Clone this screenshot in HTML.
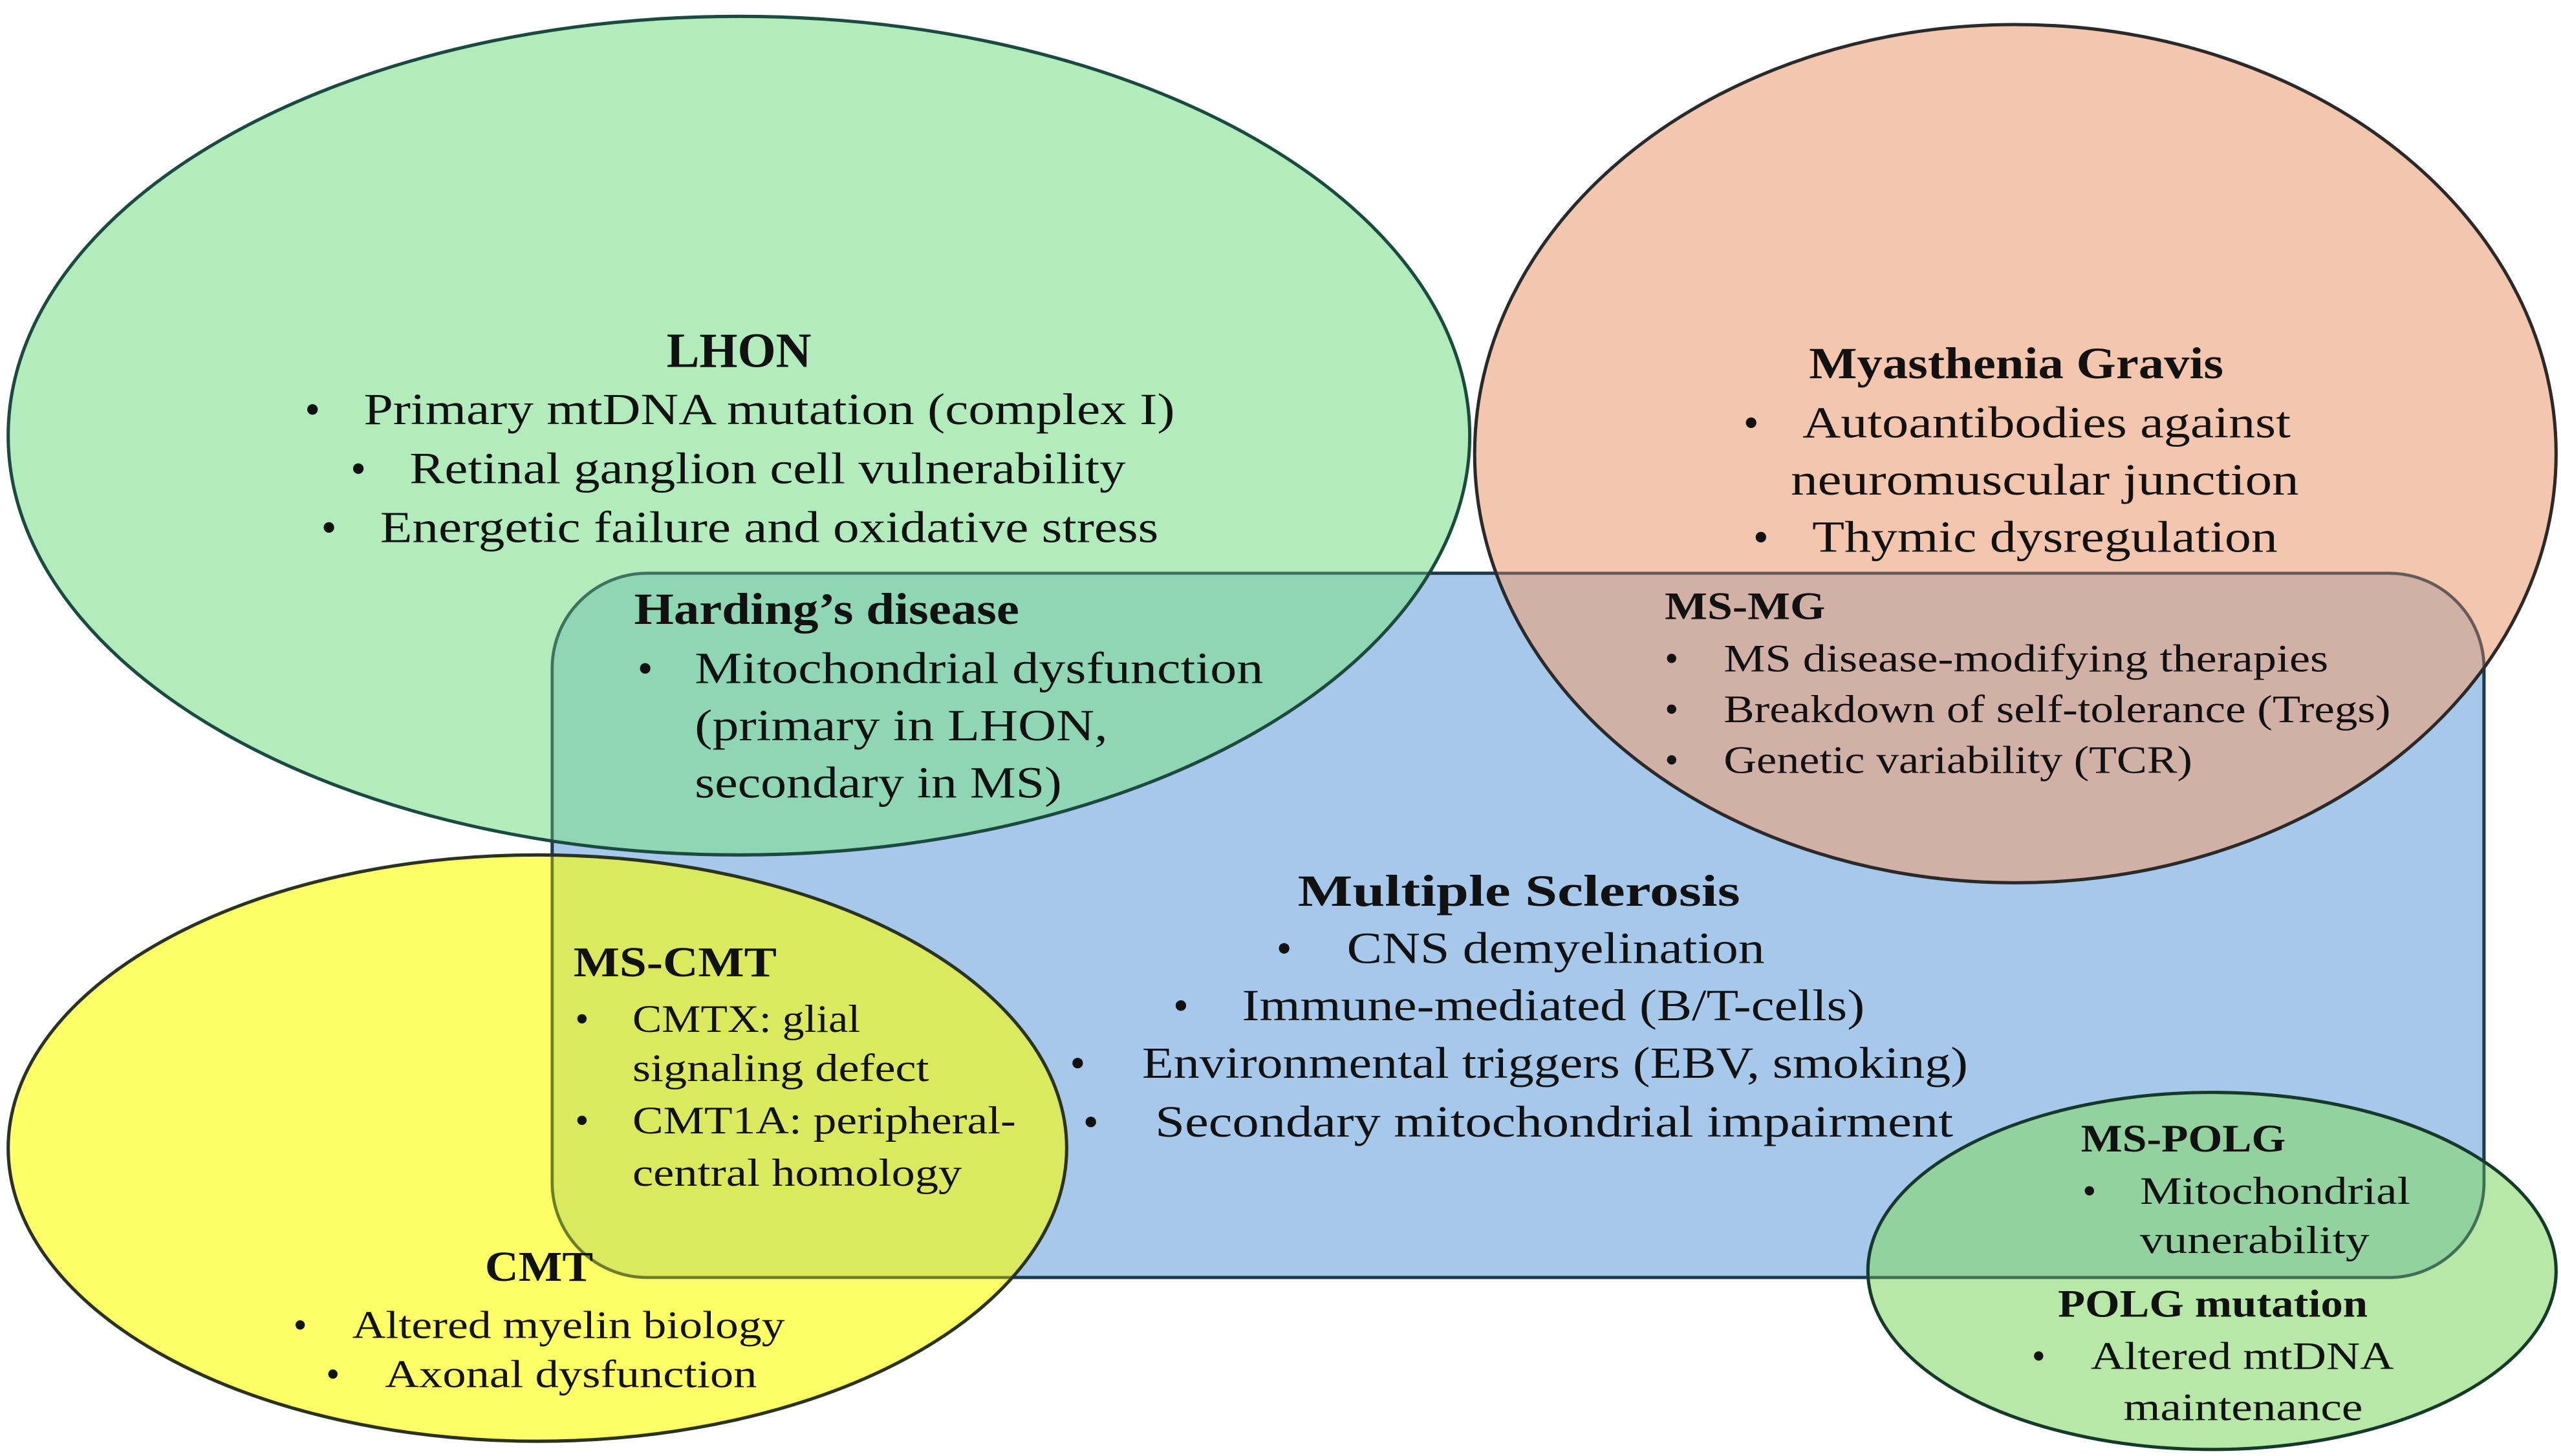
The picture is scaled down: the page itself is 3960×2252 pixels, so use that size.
<!DOCTYPE html>
<html><head><meta charset="utf-8"><style>
html,body{margin:0;padding:0;background:#fff;}
svg{display:block;}
text{font-family:"Liberation Serif",serif;fill:#111;}
.t{font-weight:bold;}
</style></head><body>
<svg width="3960" height="2252" viewBox="0 0 1563 889" preserveAspectRatio="none" xmlns="http://www.w3.org/2000/svg">
<rect x="337" y="350" width="1179" height="430" rx="58" ry="58" fill="#a6c8ea" stroke="#1c3b4c" stroke-width="2"/>
<ellipse cx="451" cy="266" rx="446" ry="256" fill="#80df8f" fill-opacity="0.6" stroke="#1a4a40" stroke-width="2"/>
<ellipse cx="1230" cy="277" rx="330" ry="262" fill="#eea078" fill-opacity="0.6" stroke="#2a2a2a" stroke-width="2"/>
<ellipse cx="328" cy="701" rx="323" ry="179" fill="#ffff00" fill-opacity="0.6" stroke="#2a3320" stroke-width="2"/>
<ellipse cx="1350" cy="776" rx="210" ry="109" fill="#87d96c" fill-opacity="0.6" stroke="#163a2a" stroke-width="2"/>
<!-- rect outline over overlaps, faint -->
<rect x="337" y="350" width="1179" height="430" rx="58" ry="58" fill="none" stroke="#1c3b4c" stroke-opacity="0.45" stroke-width="1.6"/>

<g font-size="27">
<text class="t" x="451" y="224" text-anchor="middle" font-size="30">LHON</text>
<text x="186" y="259">•</text><text x="222" y="259" textLength="495" lengthAdjust="spacingAndGlyphs">Primary mtDNA mutation (complex I)</text>
<text x="214" y="295">•</text><text x="250" y="295" textLength="437" lengthAdjust="spacingAndGlyphs">Retinal ganglion cell vulnerability</text>
<text x="196" y="331">•</text><text x="232" y="331" textLength="475" lengthAdjust="spacingAndGlyphs">Energetic failure and oxidative stress</text>

<text class="t" x="1104" y="231" textLength="253" lengthAdjust="spacingAndGlyphs">Myasthenia Gravis</text>
<text x="1064" y="267">•</text><text x="1100" y="267" textLength="298" lengthAdjust="spacingAndGlyphs">Autoantibodies against</text>
<text x="1093" y="302" textLength="310" lengthAdjust="spacingAndGlyphs">neuromuscular junction</text>
<text x="1070" y="337">•</text><text x="1106" y="337" textLength="284" lengthAdjust="spacingAndGlyphs">Thymic dysregulation</text>

<text class="t" x="387" y="381" textLength="235" lengthAdjust="spacingAndGlyphs">Harding’s disease</text>
<text x="389" y="417">•</text><text x="424" y="417" textLength="347" lengthAdjust="spacingAndGlyphs">Mitochondrial dysfunction</text>
<text x="424" y="452" textLength="252" lengthAdjust="spacingAndGlyphs">(primary in LHON,</text>
<text x="424" y="487" textLength="224" lengthAdjust="spacingAndGlyphs">secondary in MS)</text>

<text class="t" x="792" y="553" textLength="270" lengthAdjust="spacingAndGlyphs">Multiple Sclerosis</text>
<text x="779" y="588">•</text><text x="822" y="588" textLength="255" lengthAdjust="spacingAndGlyphs">CNS demyelination</text>
<text x="716" y="623">•</text><text x="758" y="623" textLength="380" lengthAdjust="spacingAndGlyphs">Immune-mediated (B/T-cells)</text>
<text x="653" y="658">•</text><text x="697" y="658" textLength="504" lengthAdjust="spacingAndGlyphs">Environmental triggers (EBV, smoking)</text>
<text x="661" y="694">•</text><text x="705" y="694" textLength="487" lengthAdjust="spacingAndGlyphs">Secondary mitochondrial impairment</text>
</g>

<g font-size="24">
<text class="t" x="1016" y="378" textLength="98" lengthAdjust="spacingAndGlyphs">MS-MG</text>
<text x="1016" y="410">•</text><text x="1052" y="410" textLength="369" lengthAdjust="spacingAndGlyphs">MS disease-modifying therapies</text>
<text x="1016" y="441">•</text><text x="1052" y="441" textLength="407" lengthAdjust="spacingAndGlyphs">Breakdown of self-tolerance (Tregs)</text>
<text x="1016" y="472">•</text><text x="1052" y="472" textLength="286" lengthAdjust="spacingAndGlyphs">Genetic variability (TCR)</text>

<text class="t" x="350" y="596" textLength="124" lengthAdjust="spacingAndGlyphs" font-size="26">MS-CMT</text>
<text x="351" y="630">•</text><text x="386" y="630" textLength="139" lengthAdjust="spacingAndGlyphs">CMTX: glial</text>
<text x="386" y="660" textLength="181" lengthAdjust="spacingAndGlyphs">signaling defect</text>
<text x="351" y="692">•</text><text x="386" y="692" textLength="234" lengthAdjust="spacingAndGlyphs">CMT1A: peripheral-</text>
<text x="386" y="724" textLength="201" lengthAdjust="spacingAndGlyphs">central homology</text>

<text class="t" x="296" y="782" textLength="66" lengthAdjust="spacingAndGlyphs" font-size="26">CMT</text>
<text x="179" y="817">•</text><text x="215" y="817" textLength="264" lengthAdjust="spacingAndGlyphs">Altered myelin biology</text>
<text x="199" y="847">•</text><text x="235" y="847" textLength="227" lengthAdjust="spacingAndGlyphs">Axonal dysfunction</text>

<text class="t" x="1270" y="703" textLength="125" lengthAdjust="spacingAndGlyphs">MS-POLG</text>
<text x="1271" y="735">•</text><text x="1306" y="735" textLength="165" lengthAdjust="spacingAndGlyphs">Mitochondrial</text>
<text x="1306" y="765" textLength="140" lengthAdjust="spacingAndGlyphs">vunerability</text>

<text class="t" x="1256" y="804" textLength="189" lengthAdjust="spacingAndGlyphs">POLG mutation</text>
<text x="1240" y="836">•</text><text x="1276" y="836" textLength="185" lengthAdjust="spacingAndGlyphs">Altered mtDNA</text>
<text x="1296" y="867" textLength="146" lengthAdjust="spacingAndGlyphs">maintenance</text>
</g>
</svg>
</body></html>
